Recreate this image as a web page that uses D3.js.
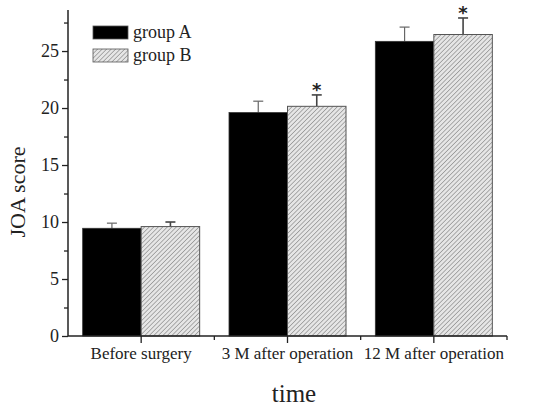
<!DOCTYPE html>
<meta charset="utf-8">
<style>
body { margin: 0; background: #fff; }
text { font-family: "Liberation Serif", "DejaVu Serif", serif; fill: #222; }
</style>
<script src="https://d3js.org/d3.v7.min.js"></script>
<body>
<svg id="chart" width="534" height="410"></svg>
<script>
// data
var categories = ["Before surgery", "3 M after operation", "12 M after operation"];
var groups = ["group A", "group B"];
var meanA = [9.45, 19.6, 25.85];
var errA  = [0.45, 1.0, 1.25];
var meanB = [9.6, 20.15, 26.45];
var errB  = [0.4, 1.0, 1.45];
var starB = [false, true, true];
var yTicks = [0, 5, 10, 15, 20, 25];
var yMinor = [2.5, 7.5, 12.5, 17.5, 22.5, 27.5];

var svg = d3.select("#chart");
var mLeft = 68, mRight = 507, mTop = 10, mBottom = 336;

var x = d3.scaleBand().domain(categories).range([mLeft, mRight]);
var y = d3.scaleLinear().domain([0, 28.6]).range([mBottom, mTop]);
var bw = 58.5;

// hatch pattern
var defs = svg.append("defs");
var pat = defs.append("pattern")
  .attr("id", "hatch").attr("patternUnits", "userSpaceOnUse")
  .attr("width", 3.2).attr("height", 3.2)
  .attr("patternTransform", "rotate(45)");
pat.append("rect").attr("width", 3.2).attr("height", 3.2).attr("fill", "#e6e6e6");
pat.append("line").attr("x1", 0).attr("y1", 0).attr("x2", 0).attr("y2", 3.2)
  .attr("stroke", "#777").attr("stroke-width", 1.1);

var rows = categories.map(function(c, i) {
  return {cat: c, a: meanA[i], ea: errA[i], b: meanB[i], eb: errB[i], star: starB[i]};
});

var g = svg.append("g");

// error bars (drawn behind bars)
function errBar(cx, v, e, col, w) {
  g.append("line").attr("x1", cx).attr("x2", cx).attr("y1", y(v)).attr("y2", y(v + e))
    .attr("stroke", col).attr("stroke-width", w);
  g.append("line").attr("x1", cx - 5).attr("x2", cx + 5).attr("y1", y(v + e)).attr("y2", y(v + e))
    .attr("stroke", col).attr("stroke-width", w);
}
rows.forEach(function(d) {
  var c = x(d.cat) + x.bandwidth() / 2;
  errBar(c - bw / 2, d.a, d.ea, "#666", 1.2);
  errBar(c + bw / 2, d.b, d.eb, "#444", 1.6);
});

// bars
g.selectAll(".barA").data(rows).enter().append("rect")
  .attr("x", function(d) { return x(d.cat) + x.bandwidth() / 2 - bw; })
  .attr("y", function(d) { return y(d.a); })
  .attr("width", bw)
  .attr("height", function(d) { return y(0) - y(d.a); })
  .attr("fill", "#000").attr("stroke", "#333").attr("stroke-width", 0.8);

g.selectAll(".barB").data(rows).enter().append("rect")
  .attr("x", function(d) { return x(d.cat) + x.bandwidth() / 2; })
  .attr("y", function(d) { return y(d.b); })
  .attr("width", bw)
  .attr("height", function(d) { return y(0) - y(d.b); })
  .attr("fill", "url(#hatch)").attr("stroke", "#555").attr("stroke-width", 1);

// stars
g.selectAll(".star").data(rows.filter(function(d) { return d.star; })).enter().append("text")
  .attr("x", function(d) { return x(d.cat) + x.bandwidth() / 2 + bw / 2; })
  .attr("y", function(d) { return y(d.b + d.eb) + 1; })
  .attr("text-anchor", "middle")
  .style("font-family", "DejaVu Sans, sans-serif")
  .style("font-size", "18px").style("font-weight", "bold")
  .style("fill", "#222")
  .text("*");

// y axis
var ya = svg.append("g").attr("transform", "translate(" + mLeft + ",0)")
  .call(d3.axisLeft(y).tickValues(yTicks).tickSize(6).tickPadding(3));
ya.select(".domain").attr("d", "M0," + y(0) + "V" + mTop).attr("stroke", "#222").attr("stroke-width", 1.5);
ya.selectAll(".tick line").attr("stroke", "#222").attr("stroke-width", 1.3);
ya.selectAll(".tick text").style("font-family", "Liberation Serif, serif").style("font-size", "18px").attr("fill", "#333");
svg.append("g").attr("transform", "translate(" + mLeft + ",0)")
  .call(d3.axisLeft(y).tickValues(yMinor).tickSize(4).tickFormat(""))
  .call(function(s) { s.select(".domain").remove(); s.selectAll("line").attr("stroke", "#222").attr("stroke-width", 1.3); });

// x axis
var xa = svg.append("g").attr("transform", "translate(0," + mBottom + ")")
  .call(d3.axisBottom(x).tickSize(7).tickPadding(4));
xa.select(".domain").attr("d", "M" + mLeft + ",0H" + mRight).attr("stroke", "#222").attr("stroke-width", 1.5);
xa.selectAll(".tick line").attr("stroke", "#222").attr("stroke-width", 1.3);
xa.selectAll(".tick text").style("font-family", "Liberation Serif, serif").style("font-size", "17px").attr("fill", "#333");
var bounds = categories.slice(1).map(function(c) { return x(c); }).concat([mRight]);
svg.append("g").selectAll("line").data(bounds).enter().append("line")
  .attr("x1", function(d) { return d; }).attr("x2", function(d) { return d; })
  .attr("y1", mBottom).attr("y2", mBottom + 4)
  .attr("stroke", "#222").attr("stroke-width", 1.3);

// axis titles
svg.append("text").attr("transform", "translate(25,192) rotate(-90)")
  .attr("text-anchor", "middle").style("font-size", "22px").text("JOA score");
svg.append("text").attr("x", 294).attr("y", 402)
  .attr("text-anchor", "middle").style("font-size", "25px").text("time");

// legend
var leg = svg.append("g").attr("transform", "translate(93,26)");
groups.forEach(function(name, i) {
  leg.append("rect").attr("x", 0).attr("y", i * 23).attr("width", 35).attr("height", 13)
    .attr("fill", i === 0 ? "#000" : "url(#hatch)").attr("stroke", "#555").attr("stroke-width", 0.8);
  leg.append("text").attr("x", 40).attr("y", i * 23 + 12)
    .style("font-size", "18px").text(name);
});
</script>
</body>
